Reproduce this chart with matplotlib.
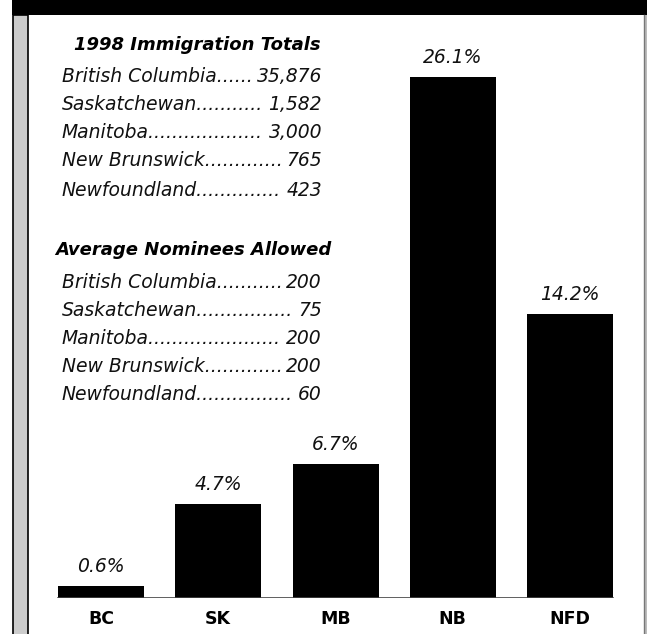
import matplotlib
matplotlib.use("Agg")
import matplotlib.pyplot as plt
from matplotlib.patches import Rectangle

# ---- data ----
categories = ["BC", "SK", "MB", "NB", "NFD"]
percent_values = [0.6, 4.7, 6.7, 26.1, 14.2]
percent_labels = ["0.6%", "4.7%", "6.7%", "26.1%", "14.2%"]
province_names = ["British Columbia", "Saskatchewan", "Manitoba", "New Brunswick", "Newfoundland"]
immigration_totals = ["35,876", "1,582", "3,000", "765", "423"]
nominees_allowed = ["200", "75", "200", "200", "60"]
title_totals = "1998 Immigration Totals"
title_nominees = "Average Nominees Allowed"

W, H = 647, 634
DPI = 100
FONT = "DejaVu Sans"

fig = plt.figure(figsize=(W / DPI, H / DPI), dpi=DPI)
fig.patch.set_facecolor("white")

# bar axes: baseline at y=597.5 px, 19.96 px per percent, bar centres 101 + 117.25*i
base_px = 597.5
ppu = 19.96
ymax = 28
x_step = 117.25
x0 = 101
ax_left = x0 - 0.5 * x_step
ax_w = 5 * x_step
ax = fig.add_axes([ax_left / W, (H - base_px) / H, ax_w / W, ymax * ppu / H])
ax.set_xlim(-0.5, 4.5)
ax.set_ylim(0, ymax)
ax.axis("off")
bw = 86 / x_step
ax.bar(range(len(categories)), percent_values, width=bw, color="black", zorder=3)
lo = (0.5 - bw / 2) / 5
hi = (4.5 + bw / 2) / 5
ax.axhline(0, xmin=lo, xmax=hi, color="#444444", lw=1.2, zorder=4)
for i, (v, lab) in enumerate(zip(percent_values, percent_labels)):
    ax.annotate(lab, (i, v), xytext=(0, 10), textcoords="offset pixels",
                ha="center", va="bottom", fontsize=13.5, style="italic",
                family=FONT, color="#111111")
for i, c in enumerate(categories):
    ax.annotate(c, (i, 0), xytext=(0, -22), textcoords="offset pixels",
                ha="center", va="center", fontsize=12.5, weight="bold",
                family=FONT, color="black", annotation_clip=False)

# overlay in pixel coordinates for decorations and text panel
ov = fig.add_axes([0, 0, 1, 1], zorder=5)
ov.set_xlim(0, W)
ov.set_ylim(H, 0)
ov.axis("off")
ov.patch.set_alpha(0)

ov.add_patch(Rectangle((12, 0), W - 12, 15, color="black", lw=0))
ov.add_patch(Rectangle((12.5, 15), 15.5, H, facecolor="#cccccc", edgecolor="black", lw=1.2))
ov.add_patch(Rectangle((643.5, 15), 3.5, H, facecolor="#bbbbbb", edgecolor="none"))
ov.plot([644, 644], [15, H], color="#777777", lw=1.0)

ov.text(197, 45, title_totals, ha="center", va="center", fontsize=13,
        weight="bold", style="italic", family=FONT)
ov.text(193.5, 250, title_nominees, ha="center", va="center", fontsize=13,
        weight="bold", style="italic", family=FONT)

fig.canvas.draw()
renderer = fig.canvas.get_renderer()

def text_w(s, **kw):
    t = ov.text(0, 0, s, **kw)
    w = t.get_window_extent(renderer).width
    t.remove()
    return w

body_kw = dict(fontsize=13.5, style="italic", family=FONT)
dot_w = text_w("..........", **body_kw) / 10
x_name, x_val = 62, 322

def row(y, name, val):
    wn = text_w(name, **body_kw)
    wv = text_w(val, **body_kw)
    n = max(1, int((x_val - x_name - wn - wv - 2) // dot_w))
    ov.text(x_name, y, name + "." * n, ha="left", va="center", color="#111111", **body_kw)
    ov.text(x_val, y, val, ha="right", va="center", color="#111111", **body_kw)

rows1 = [77, 105, 133, 161, 190]
rows2 = [283, 311, 339, 367, 395]
for y, n, v in zip(rows1, province_names, immigration_totals):
    row(y, n, v)
for y, n, v in zip(rows2, province_names, nominees_allowed):
    row(y, n, v)

fig.savefig("out.png", dpi=DPI, facecolor="white")
